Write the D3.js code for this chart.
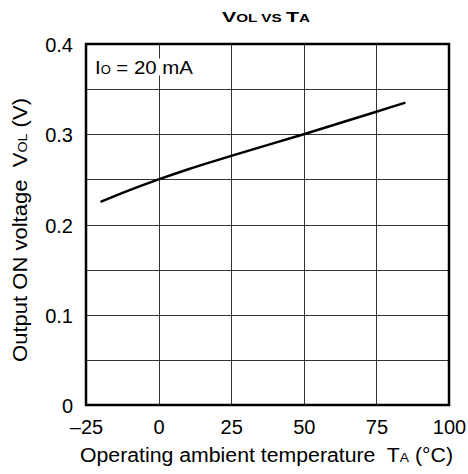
<!DOCTYPE html>
<html>
<head>
<meta charset="utf-8">
<script src="https://cdn.jsdelivr.net/npm/d3@7"></script>
<style>
    body { margin: 0; background: #fff; }
    text { font-family: 'Liberation Sans', Arial, sans-serif; fill: #000; white-space: pre; }
</style>
</head>
<body>
<script>
// Data
const tempC = [-20, -10, 0, 10, 25, 50, 75, 85];
const vol = [0.225, 0.238, 0.25, 0.261, 0.276, 0.3, 0.325, 0.335];
const xTicks = [-25, 0, 25, 50, 75, 100];
const xTickLabels = ['\u201325', '0', '25', '50', '75', '100'];
const yTicks = [0, 0.1, 0.2, 0.3, 0.4];
const yTickLabels = ['0', '0.1', '0.2', '0.3', '0.4'];
const yGrid = [0.05, 0.1, 0.15, 0.2, 0.25, 0.3, 0.35];
const xGrid = [0, 25, 50, 75];

const W = 468, H = 474;
const margin = { top: 44, right: 19, bottom: 69, left: 86 };
const width = W - margin.left - margin.right;
const height = H - margin.top - margin.bottom;

let svg = d3.select('body').append('svg')
    .attr('width', W)
    .attr('height', H);

let g = svg.append('g')
    .attr('transform', `translate(${margin.left}, ${margin.top})`);

const x = d3.scaleLinear().domain([-25, 100]).range([0, width]);
const y = d3.scaleLinear().domain([0, 0.4]).range([height, 0]);

// Grid
g.selectAll('.vgrid').data(xGrid).enter().append('line')
    .attr('x1', d => Math.round(x(d)) + 0.5).attr('x2', d => Math.round(x(d)) + 0.5)
    .attr('y1', 0).attr('y2', height)
    .attr('stroke', '#333').attr('stroke-width', 1);

g.selectAll('.hgrid').data(yGrid).enter().append('line')
    .attr('y1', d => Math.round(y(d)) + 0.5).attr('y2', d => Math.round(y(d)) + 0.5)
    .attr('x1', 0).attr('x2', width)
    .attr('stroke', '#333').attr('stroke-width', 1);

// Condition label
let cond = g.append('text')
    .attr('x', 9)
    .attr('y', 29.5)
    .attr('textLength', 98)
    .attr('lengthAdjust', 'spacingAndGlyphs')
    .style('font-size', '19px');
cond.append('tspan').text('I');
cond.append('tspan').style('font-size', '12px').text('O');
cond.append('tspan').text(' = 20 mA');
let bb = cond.node().getBBox();
g.insert('rect', 'text')
    .attr('x', bb.x - 1).attr('y', bb.y + 2)
    .attr('width', bb.width + 2).attr('height', bb.height - 4)
    .attr('fill', '#fff');

// Curve
let line = d3.line()
    .x((d, i) => x(tempC[i]))
    .y(d => y(d))
    .curve(d3.curveMonotoneX);

g.append('path')
    .datum(vol)
    .attr('d', line)
    .attr('fill', 'none')
    .attr('stroke', '#000')
    .attr('stroke-width', 2.5);

// Frame
g.append('rect')
    .attr('x', 0).attr('y', 0)
    .attr('width', width).attr('height', height)
    .attr('fill', 'none')
    .attr('stroke', '#000')
    .attr('stroke-width', 2.5);

// Axes (labels only)
let xAxis = g.append('g')
    .attr('transform', `translate(0, ${height})`)
    .call(d3.axisBottom(x).tickValues(xTicks).tickSize(0).tickPadding(15)
        .tickFormat((d, i) => xTickLabels[i]));
xAxis.select('.domain').remove();
xAxis.selectAll('text').style('font-size', '20px').style('font-family', null);

let yAxis = g.append('g')
    .call(d3.axisLeft(y).tickValues(yTicks).tickSize(0).tickPadding(13)
        .tickFormat((d, i) => yTickLabels[i]));
yAxis.select('.domain').remove();
yAxis.selectAll('text').style('font-size', '20px').style('font-family', null).attr('dy', '0.38em');

// X axis title
let xTitle = svg.append('text')
    .attr('x', 80)
    .attr('y', 461.5)
    .attr('textLength', 373)
    .attr('lengthAdjust', 'spacingAndGlyphs')
    .style('font-size', '20px');
xTitle.append('tspan').text('Operating ambient temperature  T');
xTitle.append('tspan').style('font-size', '13px').text('A');
xTitle.append('tspan').text(' (\u00b0C)');

// Y axis title
let yTitle = svg.append('text')
    .attr('transform', `translate(27, 362) rotate(-90)`)
    .attr('textLength', 264)
    .attr('lengthAdjust', 'spacingAndGlyphs')
    .style('font-size', '20px');
yTitle.append('tspan').text('Output ON voltage  V');
yTitle.append('tspan').style('font-size', '13px').text('OL');
yTitle.append('tspan').text(' (V)');

// Chart title
let title = svg.append('text')
    .attr('x', 222)
    .attr('y', 22)
    .attr('textLength', 88)
    .attr('lengthAdjust', 'spacingAndGlyphs')
    .style('font-size', '14px')
    .style('font-weight', 'bold');
title.append('tspan').text('V');
title.append('tspan').style('font-size', '10px').text('OL VS ');
title.append('tspan').text('T');
title.append('tspan').style('font-size', '10px').text('A');
</script>
</body>
</html>
